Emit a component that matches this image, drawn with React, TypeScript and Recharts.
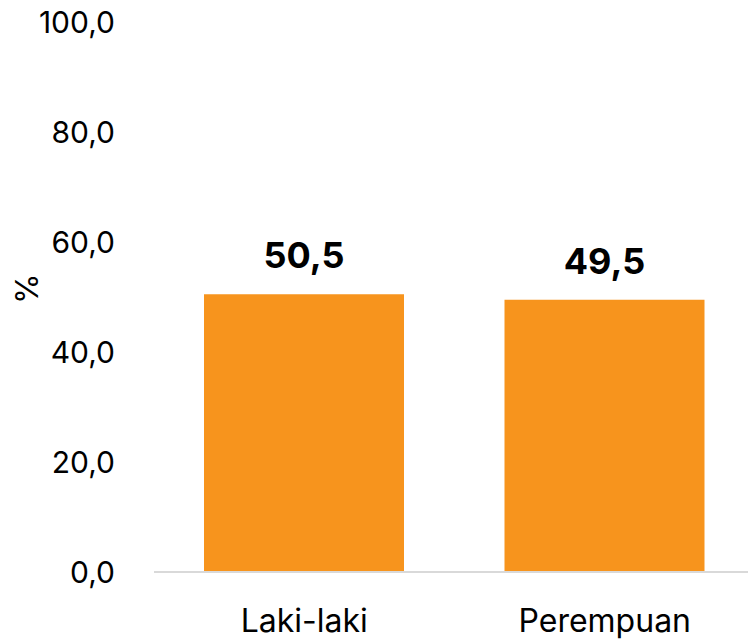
import React from 'react';
import { BarChart, Bar, XAxis, YAxis, LabelList } from 'recharts';

const categories = ['Laki-laki', 'Perempuan'];
const values = [50.5, 49.5];
const yTicks = [0, 20, 40, 60, 80, 100];

const data = categories.map((c, i) => ({ name: c, value: values[i] }));
const fmt = (v: number) => Number(v).toFixed(1).replace('.', ',');
const FONT = 'Inter, "Open Sans", sans-serif';

export default function App() {
  return (
    <div style={{ position: 'absolute', left: 0, top: 0, width: 748, height: 641, overflow: 'hidden', background: '#fff' }}>
      <BarChart width={755} height={641} data={data} margin={{ top: 22, right: 0, bottom: 0, left: 0 }}>
        <YAxis
          type="number"
          domain={[0, 100]}
          ticks={yTicks}
          width={154}
          axisLine={false}
          tickLine={false}
          tickMargin={33}
          tickFormatter={fmt}
          tick={{ fill: '#000', fontSize: 30, fontFamily: FONT }}
          label={{ value: '%', angle: -90, position: 'insideLeft', offset: 27, dy: 7, style: { fill: '#000', fontSize: 31, fontFamily: FONT } }}
        />
        <XAxis
          dataKey="name"
          height={69}
          axisLine={{ stroke: '#D9D9D9', strokeWidth: 2 }}
          tickLine={false}
          tickMargin={31}
          tick={{ fill: '#000', fontSize: 32, fontFamily: FONT }}
        />
        <Bar dataKey="value" fill="#F7941D" barSize={200} isAnimationActive={false}>
          <LabelList dataKey="value" position="top" offset={26} formatter={fmt} style={{ fill: '#000', fontSize: 36, fontWeight: 700, fontFamily: FONT }} />
        </Bar>
      </BarChart>
    </div>
  );
}
